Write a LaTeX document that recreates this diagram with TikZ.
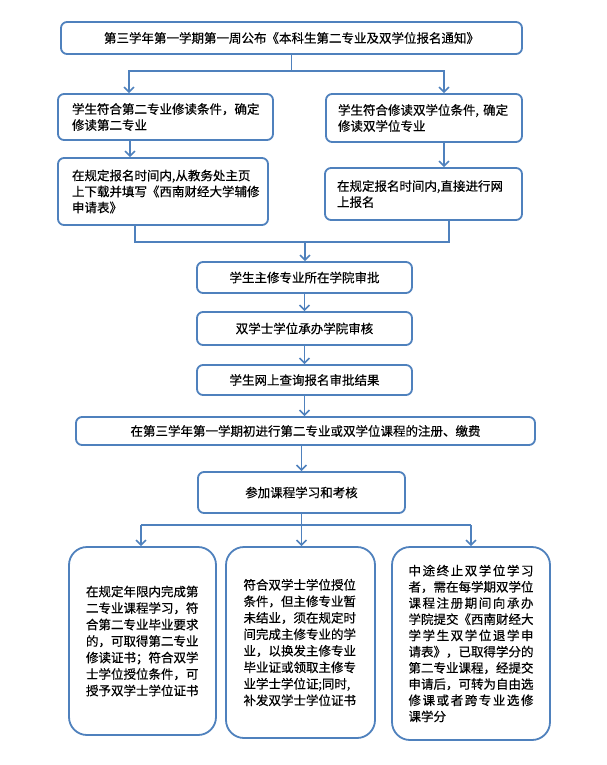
\documentclass[tikz,border=0pt]{standalone}
\usepackage{fontspec}
\setmainfont{Noto Sans CJK SC}[FakeBold=0.4]
\usepackage{tikz}
\usetikzlibrary{arrows.meta,calc}
\definecolor{flowblue}{RGB}{79,129,189}
\newcommand{\jline}[1]{\makebox[125pt][s]{\spaceskip=0pt plus 1fil #1}}

\begin{document}
\begin{tikzpicture}[
  x=1pt, y=-1pt,
  card/.style={rectangle, draw=flowblue, line width=1.8pt, rounded corners=6pt, fill=white, inner ysep=0pt, font=\fontsize{12.5}{16}\selectfont},
  leftcard/.style={card, align=left, inner xsep=14pt},
  endcard/.style={card, rounded corners=18pt, align=left, inner xsep=0pt, font=\fontsize{12.5}{16.5}\selectfont},
  flowline/.style={draw=flowblue, line width=1.5pt},
  flowarrow/.style={flowline, -{Straight Barb[length=5pt,width=10pt]}}
]
\path[use as bounding box, fill=white] (0,0) rectangle (606,765);

% Notice
\node[card, minimum width=461pt, minimum height=32pt] (notice) at (291.5,38) {第三学年第一学期第一周公布《本科生第二专业及双学位报名通知》};

% Second major side
\node[leftcard, minimum width=215pt, minimum height=46pt, text width=187pt] (minor_cond) at (165.5,117) {学生符合第二专业修读条件，确定\\修读第二专业};
\node[leftcard, minimum width=210pt, minimum height=67pt, text width=182pt] (minor_apply) at (163,191.5) {在规定报名时间内,从教务处主页\\上下载并填写《西南财经大学辅修\\申请表》};

% Dual degree side
\node[leftcard, inner xsep=12pt, minimum width=196pt, minimum height=48pt, text width=172pt] (dual_cond) at (424,118) {学生符合修读双学位条件, 确定\\修读双学位专业};
\node[leftcard, inner xsep=12pt, minimum width=197pt, minimum height=52pt, text width=173pt] (dual_apply) at (423.5,194) {在规定报名时间内,直接进行网\\上报名};

% Approval chain
\node[card, minimum width=215pt, minimum height=31pt] (school) at (304.5,277.5) {学生主修专业所在学院审批};
\node[card, minimum width=215pt, minimum height=33pt] (host) at (304.5,328.5) {双学士学位承办学院审核};
\node[card, minimum width=215pt, minimum height=30pt] (result) at (304.5,380) {学生网上查询报名审批结果};
\node[card, minimum width=459pt, minimum height=28pt] (register) at (305.5,431) {在第三学年第一学期初进行第二专业或双学位课程的注册、缴费};
\node[card, minimum width=207pt, minimum height=41pt] (study) at (301.5,492.5) {参加课程学习和考核};

% Outcomes
\node[endcard, minimum width=147pt, minimum height=188pt, text width=113pt] (end1) at (142.5,641) {在规定年限内完成第\\二专业课程学习，符\\合第二专业毕业要求\\的，可取得第二专业\\修读证书；符合双学\\士学位授位条件，可\\授予双学士学位证书};
\node[endcard, minimum width=149pt, minimum height=191pt, text width=114pt] (end2) at (300.5,642.5) {符合双学士学位授位\\条件，但主修专业暂\\未结业，须在规定时\\间完成主修专业的学\\业，以换发主修专业\\毕业证或领取主修专\\业学士学位证;同时,\\补发双学士学位证书};
\node[endcard, font=\fontsize{12.5}{16.2}\selectfont, minimum width=158pt, minimum height=193pt, text width=125pt] (end3) at (471,643.5) {\jline{中 途 终 止 双 学 位 学 习}\\者，需在每学期双学位\\\jline{课 程 注 册 期 间 向 承 办}\\学院提交《西南财经大\\\jline{学 学 生 双 学 位 退 学 申}\\请表》，已取得学分的\\第二专业课程，经提交\\申请后，可转为自由选\\\jline{修 课 或 者 跨 专 业 选 修}\\课学分};

% Split after notice
\coordinate (split_top) at (291.5,71);
\draw[flowline] (notice.south) -- (split_top);
\draw[flowarrow] (split_top) -| (129,0 |- minor_cond.north);
\draw[flowarrow] (split_top) -| (444,0 |- dual_cond.north);
\draw[flowarrow] (130,0 |- minor_cond.south) -- (130,0 |- minor_apply.north);
\draw[flowarrow] (444,0 |- dual_cond.south) -- (444,0 |- dual_apply.north);

% Merge
\coordinate (join_mid) at (305,242);
\draw[flowline] (135,0 |- minor_apply.south) |- (join_mid) -| (449,0 |- dual_apply.south);
\draw[flowarrow] (join_mid) -- (join_mid |- school.north);

% Chain
\draw[flowarrow] (school) -- (host);
\draw[flowarrow] (host) -- (result);
\draw[flowarrow] (result.south) -- (result.south |- register.north);
\draw[flowarrow] (study.north |- register.south) -- (study.north);

% Split to outcomes
\coordinate (split_end) at (study.south |- 0,525);
\draw[flowline] (141,0 |- split_end) -- (end3.north |- split_end);
\draw[flowarrow] (study.south) -- (study.south |- end2.north);
\draw[flowarrow] (141,0 |- split_end) -- (141,0 |- end1.north);
\draw[flowarrow] (end3.north |- split_end) -- (end3.north);

\end{tikzpicture}
\end{document}
